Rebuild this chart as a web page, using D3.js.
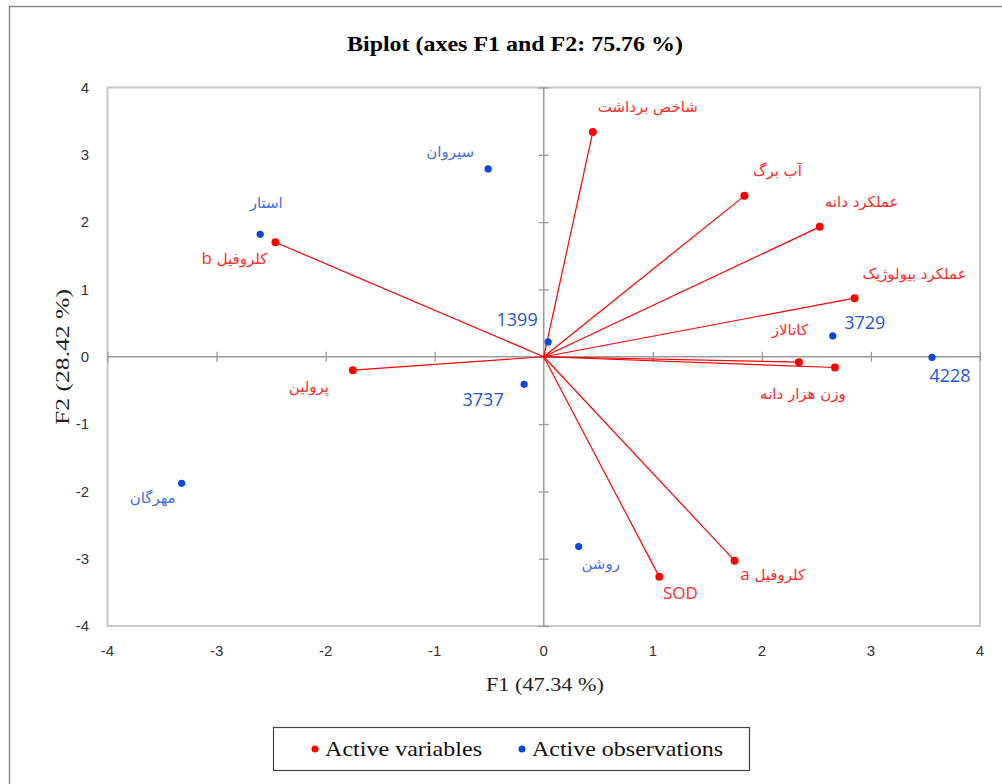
<!DOCTYPE html>
<html>
<head>
<meta charset="utf-8">
<script src="https://cdn.jsdelivr.net/npm/d3@7"></script>
<style>
  html, body { margin: 0; padding: 0; background: #fff; }
  svg { display: block; }
</style>
</head>
<body>
<script>
// Active variables (loadings on F1/F2)
const varNames = ["شاخص برداشت", "آب برگ", "عملکرد دانه", "عملکرد بیولوژیک", "کاتالاز", "وزن هزار دانه", "کلروفیل a", "SOD", "پرولین", "کلروفیل b"];
const varF1 = [0.45, 1.84, 2.53, 2.85, 2.34, 2.67, 1.75, 1.06, -1.75, -2.46];
const varF2 = [3.34, 2.39, 1.93, 0.87, -0.08, -0.16, -3.03, -3.27, -0.20, 1.70];

// Active observations (scores on F1/F2)
const obsNames = ["سیروان", "استار", "1399", "3737", "مهرگان", "روشن", "3729", "4228"];
const obsF1 = [-0.51, -2.60, 0.04, -0.18, -3.32, 0.32, 2.65, 3.56];
const obsF2 = [2.79, 1.82, 0.22, -0.41, -1.88, -2.82, 0.31, -0.01];

// Axis ticks
const tickValues = [-4, -3, -2, -1, 0, 1, 2, 3, 4];

// Label placement relative to each point (pixels)
const varLabelOffset = [[55, -25], [33, -25], [42, -25], [60, -24], [-9, -32], [-32, 26], [38, 14], [21, 16], [-44, 17], [-41, 16]];
const obsLabelOffset = [[-38, -17], [6, -31], [-31, -22], [-41, 15], [-29, 14], [22, 17], [32, -13], [18, 18]];

const W = 1002, H = 784;
const svg = d3.select("body").append("svg").attr("width", W).attr("height", H);

// outer frame
svg.append("rect").attr("x", 9.5).attr("y", 6.5).attr("width", W + 10).attr("height", H + 10)
  .attr("fill", "none").attr("stroke", "#8a8a8a").attr("stroke-width", 1.5);

const x = d3.scaleLinear().domain([-4, 4]).range([107.5, 980]);
const y = d3.scaleLinear().domain([-4, 4]).range([626, 87.5]);

// plot area border
svg.append("rect").attr("x", x(-4)).attr("y", y(4)).attr("width", x(4) - x(-4)).attr("height", y(-4) - y(4))
  .attr("fill", "none").attr("stroke", "#c8c8c8").attr("stroke-width", 2);

// zero lines with cross ticks
const axisCol = "#9a9a9a";
const xAxis = d3.axisBottom(x).tickValues(tickValues).tickSizeInner(10).tickSizeOuter(0).tickFormat("");
const gx = svg.append("g").attr("transform", `translate(0,${y(0) - 5})`).call(xAxis);
gx.select(".domain").remove();
gx.selectAll("line").attr("stroke", axisCol).attr("stroke-width", 1.3);
svg.append("line").attr("x1", x(-4)).attr("x2", x(4)).attr("y1", y(0)).attr("y2", y(0))
  .attr("stroke", axisCol).attr("stroke-width", 1.5);

const yAxis = d3.axisRight(y).tickValues(tickValues).tickSizeInner(10).tickSizeOuter(0).tickFormat("");
const gy = svg.append("g").attr("transform", `translate(${x(0) - 5},0)`).call(yAxis);
gy.select(".domain").remove();
gy.selectAll("line").attr("stroke", axisCol).attr("stroke-width", 1.3);
svg.append("line").attr("x1", x(0)).attr("x2", x(0)).attr("y1", y(-4)).attr("y2", y(4))
  .attr("stroke", axisCol).attr("stroke-width", 1.5);

// tick labels
const tickFont = "'Liberation Sans', Arial, sans-serif";
svg.append("g").selectAll("text").data(tickValues).join("text")
  .attr("x", 89).attr("y", d => y(d)).attr("dy", "0.35em")
  .attr("text-anchor", "end").attr("font-family", tickFont).attr("font-size", 15).attr("fill", "#333")
  .text(d => d);
svg.append("g").selectAll("text").data(tickValues).join("text")
  .attr("x", d => x(d)).attr("y", 651).attr("dy", "0.35em")
  .attr("text-anchor", "middle").attr("font-family", tickFont).attr("font-size", 15).attr("fill", "#333")
  .text(d => d);

// titles
const serif = "'Liberation Serif', 'Times New Roman', serif";
svg.append("text").attr("x", 515).attr("y", 51).attr("text-anchor", "middle")
  .attr("font-family", serif).attr("font-weight", "bold").attr("font-size", 21).attr("fill", "#000")
  .attr("textLength", 336).attr("lengthAdjust", "spacingAndGlyphs")
  .text("Biplot (axes F1 and F2: 75.76 %)");
svg.append("text").attr("x", 545).attr("y", 691).attr("text-anchor", "middle")
  .attr("font-family", serif).attr("font-size", 19).attr("fill", "#222")
  .attr("textLength", 118).attr("lengthAdjust", "spacingAndGlyphs")
  .text("F1 (47.34 %)");
svg.append("text").attr("transform", `translate(69,${357}) rotate(-90)`).attr("text-anchor", "middle")
  .attr("font-family", serif).attr("font-size", 19).attr("fill", "#222")
  .attr("textLength", 136).attr("lengthAdjust", "spacingAndGlyphs")
  .text("F2 (28.42 %)");

// label writer: Arabic runs in DejaVu Sans, Latin runs in a larger sans
const isLatin = s => /^[A-Za-z0-9 ]+$/.test(s);
function writeLabel(sel, latinSize, arabicSize) {
  sel.each(function (d) {
    const t = d3.select(this);
    if (isLatin(d.name)) {
      t.style("direction", "ltr").attr("font-family", "'Open Sans', sans-serif").attr("font-size", latinSize).text(d.name);
    } else {
      t.style("direction", "rtl").attr("font-family", "'DejaVu Sans', sans-serif").attr("font-size", arabicSize);
      const parts = d.name.match(/[A-Za-z]+|[^A-Za-z]+/g);
      parts.forEach(p => {
        const ts = t.append("tspan").text(p);
        if (/[A-Za-z]/.test(p)) ts.attr("font-family", "'Open Sans', sans-serif").attr("font-size", 17);
      });
    }
  });
}

// variable vectors
const red = "#ff0000";
const vars = varNames.map((n, i) => ({ name: n, f1: varF1[i], f2: varF2[i], off: varLabelOffset[i] }));
svg.append("g").selectAll("line").data(vars).join("line")
  .attr("x1", x(0)).attr("y1", y(0)).attr("x2", d => x(d.f1)).attr("y2", d => y(d.f2))
  .attr("stroke", red).attr("stroke-width", 1.2);
svg.append("g").selectAll("circle").data(vars).join("circle")
  .attr("cx", d => x(d.f1)).attr("cy", d => y(d.f2)).attr("r", 4).attr("fill", red);
svg.append("g").selectAll("text").data(vars).join("text")
  .attr("x", d => x(d.f1) + d.off[0]).attr("y", d => y(d.f2) + d.off[1]).attr("dy", "0.35em")
  .attr("text-anchor", "middle").attr("fill", "#ff2a2a")
  .call(writeLabel, 17, 15);

// observations
const blue = "#0a47e0";
const obs = obsNames.map((n, i) => ({ name: n, f1: obsF1[i], f2: obsF2[i], off: obsLabelOffset[i] }));
svg.append("g").selectAll("circle").data(obs).join("circle")
  .attr("cx", d => x(d.f1)).attr("cy", d => y(d.f2)).attr("r", 3.6).attr("fill", blue);
svg.append("g").selectAll("text").data(obs).join("text")
  .attr("x", d => x(d.f1) + d.off[0]).attr("y", d => y(d.f2) + d.off[1]).attr("dy", "0.35em")
  .attr("text-anchor", "middle")
  .attr("fill", d => isLatin(d.name) ? "#2456dd" : "#3f6ee6")
  .call(writeLabel, 18, 15);

// legend
const lg = svg.append("g");
lg.append("rect").attr("x", 273.5).attr("y", 727.5).attr("width", 476).attr("height", 43)
  .attr("fill", "#fff").attr("stroke", "#444").attr("stroke-width", 1.2);
const legendItems = [
  { label: "Active variables", color: red, cx: 315, tx: 325, len: 157 },
  { label: "Active observations", color: blue, cx: 522, tx: 532, len: 191 }
];
legendItems.forEach(it => {
  lg.append("circle").attr("cx", it.cx).attr("cy", 749).attr("r", 3.5).attr("fill", it.color);
  lg.append("text").attr("x", it.tx).attr("y", 756).attr("font-family", serif).attr("font-size", 21)
    .attr("fill", "#111").attr("textLength", it.len).attr("lengthAdjust", "spacingAndGlyphs").text(it.label);
});
</script>
</body>
</html>
